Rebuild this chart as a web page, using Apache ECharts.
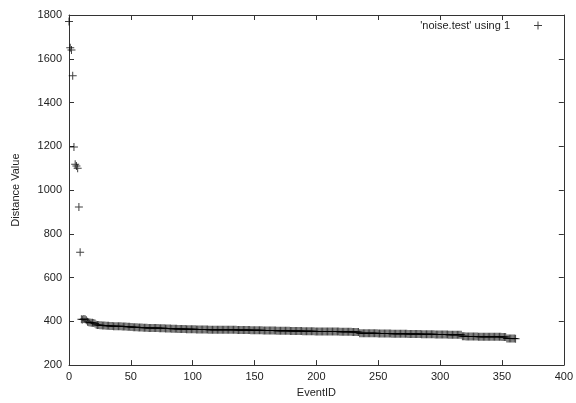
<!DOCTYPE html>
<html>
<head>
<meta charset="utf-8">
<script src="https://cdn.jsdelivr.net/npm/echarts@6/dist/echarts.min.js"></script>
<style>
  html, body { margin: 0; padding: 0; background: #fff; }
  #chart { width: 576px; height: 403px; }
</style>
</head>
<body>
<div id="chart"></div>
<script>
// distance value per event, index = EventID
var distanceValues = [
  1770, 1650, 1640, 1522, 1197, 1118, 1110, 1100, 922, 716,
  410, 408, 411, 409, 405, 398, 396, 395, 394, 393,
  392, 390, 384, 383, 383, 382, 382, 381, 381, 381,
  380, 380, 380, 379, 379, 379, 378, 378, 378, 377,
  377, 377, 377, 376, 376, 376, 376, 375, 375, 375,
  374, 374, 373, 373, 373, 373, 372, 372, 372, 372,
  371, 371, 371, 371, 370, 370, 370, 370, 369, 369,
  369, 369, 369, 368, 368, 368, 368, 368, 367, 367,
  367, 367, 367, 366, 366, 366, 366, 366, 365, 365,
  365, 365, 365, 365, 365, 364, 364, 364, 364, 364,
  364, 364, 364, 363, 363, 363, 363, 363, 363, 363,
  363, 363, 363, 362, 362, 362, 362, 362, 362, 362,
  362, 362, 362, 362, 361, 361, 361, 361, 361, 361,
  361, 361, 361, 361, 361, 361, 360, 360, 360, 360,
  360, 360, 360, 360, 360, 360, 360, 359, 359, 359,
  359, 359, 359, 359, 359, 359, 359, 358, 358, 358,
  358, 358, 358, 358, 358, 358, 358, 358, 357, 357,
  357, 357, 357, 357, 357, 357, 357, 357, 357, 356,
  356, 356, 356, 356, 356, 356, 356, 356, 356, 355,
  355, 355, 355, 355, 355, 355, 355, 355, 355, 354,
  354, 354, 354, 354, 354, 354, 354, 354, 354, 353,
  353, 353, 353, 353, 353, 353, 353, 353, 353, 352,
  352, 352, 352, 352, 352, 352, 352, 352, 352, 351,
  351, 351, 351, 351, 351, 346, 346, 346, 346, 346,
  345, 345, 345, 345, 345, 345, 345, 345, 345, 345,
  344, 344, 344, 344, 344, 344, 344, 344, 344, 344,
  344, 343, 343, 343, 343, 343, 343, 343, 343, 343,
  343, 343, 343, 343, 342, 342, 342, 342, 342, 342,
  342, 342, 342, 342, 342, 341, 341, 341, 341, 341,
  341, 341, 341, 341, 341, 341, 340, 340, 340, 340,
  340, 340, 340, 340, 340, 340, 340, 339, 339, 339,
  339, 339, 339, 339, 339, 339, 339, 339, 332, 332,
  332, 331, 331, 331, 331, 331, 331, 331, 331, 331,
  331, 330, 330, 330, 330, 330, 330, 330, 330, 330,
  330, 329, 329, 329, 329, 329, 329, 329, 329, 329,
  328, 328, 328, 328, 322, 322, 322, 322, 321, 321,
  321, 320
];
var seriesName = "'noise.test' using 1";
var xName = "EventID";
var yName = "Distance Value";

var textColor = "#222";
var frameColor = "#333";
var font = "'Liberation Sans', Arial, sans-serif";
var plusPath = "path://M0,3.5H8V4.5H0Z M3.5,0H4.5V8H3.5Z";

var points = distanceValues.map(function (v, i) { return [i, v]; });

function frameAxis(extra) {
  var base = {
    type: "value",
    axisLine: { show: true, onZero: false, lineStyle: { color: frameColor, width: 1 } },
    axisTick: { show: true, inside: true, length: 5, lineStyle: { color: frameColor } },
    axisLabel: { show: false },
    splitLine: { show: false }
  };
  return Object.assign(base, extra);
}

var chart = echarts.init(document.getElementById("chart"));
chart.setOption({
  animation: false,
  backgroundColor: "#fff",
  textStyle: { fontFamily: font },
  grid: { left: 69, right: 12, top: 15, bottom: 33 },
  legend: {
    data: [seriesName],
    right: 34,
    top: 20,
    padding: 0,
    align: "right",
    icon: plusPath,
    itemWidth: 46,
    itemHeight: 8,
    textStyle: { color: textColor, fontSize: 11, fontFamily: font }
  },
  xAxis: [
    frameAxis({
      position: "bottom", min: 0, max: 400, interval: 50,
      axisLabel: { show: true, color: textColor, fontSize: 11, margin: 6, fontFamily: font },
      name: xName, nameLocation: "middle", nameGap: 20,
      nameTextStyle: { color: textColor, fontSize: 11, fontFamily: font }
    }),
    frameAxis({ position: "top", min: 0, max: 400, interval: 50 })
  ],
  yAxis: [
    frameAxis({
      position: "left", min: 200, max: 1800, interval: 200,
      axisLabel: {
        show: true, color: textColor, fontSize: 11, margin: 7, fontFamily: font,
        formatter: function (v) { return String(v); }
      },
      name: yName, nameLocation: "middle", nameGap: 48,
      nameTextStyle: { color: textColor, fontSize: 11, fontFamily: font }
    }),
    frameAxis({ position: "right", min: 200, max: 1800, interval: 200 })
  ],
  series: [
    {
      name: seriesName,
      type: "scatter",
      xAxisIndex: 0,
      yAxisIndex: 0,
      symbol: plusPath,
      symbolSize: 8,
      itemStyle: { color: "#000", opacity: 0.75 },
      data: points
    }
  ]
});
</script>
</body>
</html>
